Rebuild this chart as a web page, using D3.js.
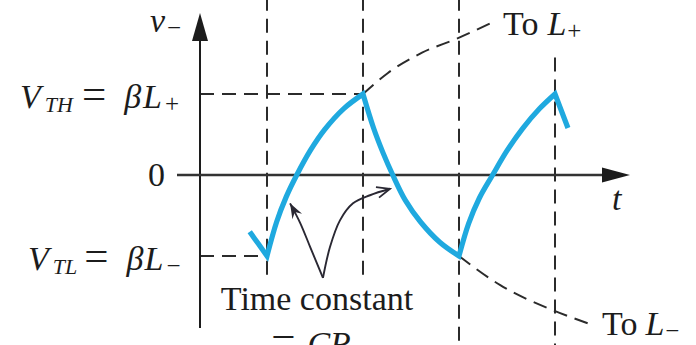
<!DOCTYPE html>
<html>
<head>
<meta charset="utf-8">
<script src="https://cdn.jsdelivr.net/npm/d3@7"></script>
<style>
  html, body { margin: 0; padding: 0; background: #fff; }
  svg { display: block; }
  text { white-space: pre; }
</style>
</head>
<body>
<svg id="chart" width="696" height="345"></svg>
<script>
// Capacitor voltage v− of the op-amp astable multivibrator.
// Time t is in half-periods (comparator switches at integer t),
// voltage v is in units of the threshold βL (VTH = +1, VTL = −1).

const switchTimes = [0, 1, 2, 3];
const levelValues = [1, 0, -1];
const levelLabels = [
  [["V", "i"], ["TH", "si"], ["=", "e"], ["β", "i"], ["L", "i"], ["+", "s"]],
  [["0", "n"]],
  [["V", "i"], ["TL", "si"], ["=", "e"], ["β", "i"], ["L", "i"], ["−", "s"]]
];

// Waveform, one array per exponential segment: [t, v]
const dischargeStart = [[-0.18, -0.70], [-0.09, -0.85], [0, -1]];
const chargeUp1 = [[0, -1], [0.1, -0.58], [0.2, -0.27], [0.31, 0], [0.45, 0.3], [0.6, 0.56], [0.8, 0.82], [1, 1]];
const dischargeDown = [[1, 1], [1.11, 0.58], [1.21, 0.27], [1.31, 0], [1.44, -0.31], [1.6, -0.58], [1.8, -0.83], [2, -1]];
const chargeUp2 = [[2, -1], [2.1, -0.6], [2.21, -0.29], [2.35, 0], [2.5, 0.3], [2.66, 0.57], [2.84, 0.82], [3, 1]];
const dischargeEnd = [[3, 1], [3.135, 0.58]];

// Where each exponential would have gone had it not been switched
const towardLplus = [[1, 1], [1.26, 1.26], [1.615, 1.51], [1.99, 1.69], [2.34, 1.88]];
const towardLminus = [[2, -1], [2.43, -1.36], [2.98, -1.67], [3.34, -1.83]];

// "Time constant = CR" pointer arms, from the shared vertex to each tip
const pointerLeft = [[0.583, -1.27], [0.45, -0.89], [0.345, -0.59], [0.24, -0.35]];
const pointerRight = [[0.583, -1.27], [0.656, -0.89], [0.76, -0.56], [0.896, -0.35], [1.073, -0.25], [1.281, -0.17]];

const W = 696, H = 345;
const serif = "'Liberation Serif', 'Times New Roman', Times, serif";
const ink = "#1c1c1c";
const dashInk = "#2b2b2b";
const blue = "#1fa9df";
const arrowInk = "#2a2833";

const svg = d3.select("#chart");
svg.append("rect").attr("width", W).attr("height", H).attr("fill", "#fff");

const x = d3.scaleLinear().domain([0, 3]).range([267, 555]);
const y = d3.scaleLinear().domain([-1, 1]).range([256, 94]);

const axisX = 200;          // vertical axis position
const axisY = y(0);         // horizontal axis position

const defs = svg.append("defs");
defs.append("marker")
  .attr("id", "headFilled").attr("markerUnits", "userSpaceOnUse")
  .attr("viewBox", "-16 -8 18 16").attr("refX", 0).attr("refY", 0)
  .attr("markerWidth", 18).attr("markerHeight", 16).attr("orient", "auto")
  .append("path").attr("d", "M0,0 L-15,-5.5 L-10,0 L-15,5.5 Z").attr("fill", arrowInk);
defs.append("marker")
  .attr("id", "headOpen").attr("markerUnits", "userSpaceOnUse")
  .attr("viewBox", "-16 -8 18 16").attr("refX", 0).attr("refY", 0)
  .attr("markerWidth", 18).attr("markerHeight", 16).attr("orient", "auto")
  .append("path").attr("d", "M-13,-5.5 L0,0 L-13,5.5").attr("fill", "none")
  .attr("stroke", arrowInk).attr("stroke-width", 1.8);

// Guides: switching instants and threshold levels (dashed)
const guides = svg.append("g")
  .attr("stroke", dashInk).attr("stroke-width", 2)
  .attr("stroke-dasharray", "14,8").attr("fill", "none");
const guideSpan = { 0: [2.2, -1.3], 1: [2.2, -1.3], 2: [2.2, -2.2], 3: [1.45, -2.2] };
switchTimes.forEach(t => {
  guides.append("line")
    .attr("x1", x(t)).attr("x2", x(t))
    .attr("y1", y(guideSpan[t][0])).attr("y2", y(guideSpan[t][1]));
});
guides.append("line").attr("x1", axisX).attr("x2", x(1)).attr("y1", y(1)).attr("y2", y(1));
guides.append("line").attr("x1", axisX).attr("x2", x(0)).attr("y1", y(-1)).attr("y2", y(-1));

// Asymptotic continuations toward L+ and L−
const smooth = d3.line().x(d => x(d[0])).y(d => y(d[1])).curve(d3.curveMonotoneX);
guides.append("path").attr("d", smooth(towardLplus));
guides.append("path").attr("d", smooth(towardLminus));

// Axes
svg.append("line")
  .attr("x1", axisX).attr("x2", axisX).attr("y1", 36).attr("y2", 328)
  .attr("stroke", ink).attr("stroke-width", 2);
svg.append("path")
  .attr("d", `M${axisX},13 L${axisX - 8},41 L${axisX + 8},41 Z`).attr("fill", ink);
svg.append("line")
  .attr("x1", 177).attr("x2", 608).attr("y1", axisY).attr("y2", axisY)
  .attr("stroke", "#333").attr("stroke-width", 2.4);
svg.append("path")
  .attr("d", `M630,${axisY} L602,${axisY - 7.5} L602,${axisY + 7.5} Z`).attr("fill", ink);

// Waveform: exponential segments joined with sharp corners at each switch
const seg = d3.line().x(d => x(d[0])).y(d => y(d[1])).curve(d3.curveCatmullRom.alpha(0.5));
const wave = [dischargeStart, chargeUp1, dischargeDown, chargeUp2, dischargeEnd]
  .map((s, i) => i ? seg(s).replace(/^M/, "L") : seg(s)).join("");
svg.append("path").attr("d", wave)
  .attr("fill", "none").attr("stroke", blue).attr("stroke-width", 5.2)
  .attr("stroke-linejoin", "miter").attr("stroke-miterlimit", 10)
  .attr("stroke-linecap", "butt");

// Pointer arrows for the time constant
const arm = d3.line().x(d => x(d[0])).y(d => y(d[1])).curve(d3.curveCatmullRom.alpha(0.5));
svg.append("path").attr("d", arm(pointerLeft))
  .attr("fill", "none").attr("stroke", arrowInk).attr("stroke-width", 1.9)
  .attr("marker-end", "url(#headFilled)");
svg.append("path").attr("d", arm(pointerRight))
  .attr("fill", "none").attr("stroke", arrowInk).attr("stroke-width", 1.9)
  .attr("marker-end", "url(#headOpen)");

// Rich text helper: n = roman, i = italic, s = subscript, si = italic subscript,
// e = wide relation sign. gaps gives extra horizontal space before each part.
function rich(px, py, anchor, parts, gaps = [], size = 34) {
  const t = svg.append("text")
    .attr("x", px).attr("y", py).attr("text-anchor", anchor)
    .attr("font-family", serif).attr("font-size", size).attr("fill", ink);
  let shift = 0;
  parts.forEach(([s, k], i) => {
    const sub = k.startsWith("s");
    const target = sub ? 4 : 0;
    const ts = t.append("tspan").text(s).attr("dy", target - shift);
    if (gaps[i]) ts.attr("dx", gaps[i]);
    shift = target;
    if (sub) ts.attr("font-size", k === "si" ? 22 : 25);
    if (k === "e") ts.attr("font-size", 43);
    if (k.includes("i")) ts.attr("font-style", "italic");
  });
  return t;
}

// Threshold level labels on the vertical axis
const labelSpec = {
  "1":  { x: 20,  drop: 14, anchor: "start", gaps: [0, 4, 9, 18, 2, 3] },
  "0":  { x: 165, drop: 11, anchor: "end",   gaps: [] },
  "-1": { x: 28,  drop: 14, anchor: "start", gaps: [0, 4, 7, 18, 1, 3] }
};
levelValues.forEach((v, i) => {
  const s = labelSpec[String(v)];
  rich(s.x, y(v) + s.drop, s.anchor, levelLabels[i], s.gaps);
});

// Axis titles
rich(150, 32, "start", [["v", "i"], ["−", "s"]], [0, 2]);
rich(612, axisY + 35, "start", [["t", "i"]]);

// Asymptote labels
rich(503, 35, "start", [["To", "n"], ["L", "i"], ["+", "s"]], [0, 9, 1]);
rich(602, 335, "start", [["To", "n"], ["L", "i"], ["−", "s"]], [0, 8, 1]);

// Time constant annotation
rich(317, 310, "middle", [["Time constant", "n"]]);
rich(311, 355, "middle", [["=", "e"], ["CR", "i"]], [0, 12]);
</script>
</body>
</html>
